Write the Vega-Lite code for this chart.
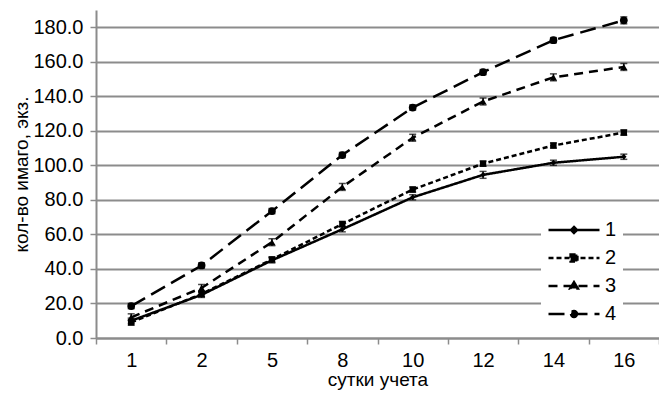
{
  "$schema": "https://vega.github.io/schema/vega-lite/v6.json",
  "width": 563,
  "height": 328,
  "autosize": "none",
  "padding": {"left": 96, "top": 10, "right": 0, "bottom": 56},
  "background": "white",
  "config": {
    "font": "Liberation Sans",
    "view": {"stroke": null},
    "axis": {
      "labelFont": "Liberation Sans",
      "titleFont": "Liberation Sans",
      "labelColor": "black",
      "titleColor": "black",
      "labelFontSize": 20,
      "titleFontSize": 19,
      "titleFontWeight": "normal",
      "domainColor": "#8c8c8c",
      "domainWidth": 2,
      "tickColor": "#8c8c8c",
      "tickWidth": 1.5,
      "gridColor": "#8c8c8c",
      "gridWidth": 2,
      "labelOverlap": false
    },
    "legend": {"labelFont": "Liberation Sans"}
  },
  "data": {
    "values": [
      {"day": 1, "series": "1", "value": 10, "err": 1.5},
      {"day": 2, "series": "1", "value": 25, "err": 1.5},
      {"day": 5, "series": "1", "value": 45, "err": 1.5},
      {"day": 8, "series": "1", "value": 63, "err": 1.5},
      {"day": 10, "series": "1", "value": 81.5, "err": 1.5},
      {"day": 12, "series": "1", "value": 94.5, "err": 2},
      {"day": 14, "series": "1", "value": 101.5, "err": 1.5},
      {"day": 16, "series": "1", "value": 105, "err": 1.5},
      {"day": 1, "series": "2", "value": 9, "err": 1.5},
      {"day": 2, "series": "2", "value": 25.5, "err": 1.5},
      {"day": 5, "series": "2", "value": 45.5, "err": 1.5},
      {"day": 8, "series": "2", "value": 66, "err": 1.5},
      {"day": 10, "series": "2", "value": 86, "err": 1.5},
      {"day": 12, "series": "2", "value": 101, "err": 1.5},
      {"day": 14, "series": "2", "value": 111.5, "err": 1.5},
      {"day": 16, "series": "2", "value": 119, "err": 1.5},
      {"day": 1, "series": "3", "value": 12, "err": 2},
      {"day": 2, "series": "3", "value": 29, "err": 2},
      {"day": 5, "series": "3", "value": 55.5, "err": 2},
      {"day": 8, "series": "3", "value": 87.5, "err": 2},
      {"day": 10, "series": "3", "value": 116, "err": 2},
      {"day": 12, "series": "3", "value": 137, "err": 2},
      {"day": 14, "series": "3", "value": 151, "err": 2},
      {"day": 16, "series": "3", "value": 157, "err": 2},
      {"day": 1, "series": "4", "value": 18.5, "err": 1.5},
      {"day": 2, "series": "4", "value": 42, "err": 1.5},
      {"day": 5, "series": "4", "value": 73.5, "err": 1.5},
      {"day": 8, "series": "4", "value": 106, "err": 1.5},
      {"day": 10, "series": "4", "value": 133.5, "err": 1.5},
      {"day": 12, "series": "4", "value": 154, "err": 1.5},
      {"day": 14, "series": "4", "value": 172.5, "err": 1.5},
      {"day": 16, "series": "4", "value": 184, "err": 2}
    ]
  },
  "encoding": {
    "x": {
      "field": "day",
      "type": "ordinal",
      "scale": {"paddingInner": 0, "paddingOuter": 0},
      "axis": {
        "title": "сутки учета",
        "labelAngle": 0,
        "tickBand": "extent",
        "tickSize": 6,
        "labelPadding": 6,
        "titlePadding": 0,
        "grid": false
      }
    },
    "y": {
      "field": "value",
      "type": "quantitative",
      "title": "кол-во имаго, экз.",
      "scale": {"domain": [0, 190], "nice": false},
      "axis": {
        "values": [0, 20, 40, 60, 80, 100, 120, 140, 160, 180],
        "format": ".1f",
        "tickSize": 6,
        "labelPadding": 7,
        "labelOverlap": false,
        "titlePadding": 1,
        "grid": true
      }
    }
  },
  "layer": [
    {
      "mark": {"type": "line", "color": "black", "strokeWidth": 2.5},
      "encoding": {
        "strokeDash": {
          "field": "series",
          "type": "nominal",
          "scale": {"range": [[1, 0], [5, 3], [9, 6], [16, 7]]},
          "legend": {
            "title": null,
            "orient": "none",
            "legendX": 445,
            "legendY": 204,
            "fillColor": "white",
            "padding": 6,
            "symbolType": "stroke",
            "symbolSize": 289,
            "symbolStrokeWidth": 2.5,
            "symbolStrokeColor": "black",
            "symbolFillColor": "black",
            "labelFontSize": 20,
            "labelColor": "black",
            "labelOffset": 38,
            "rowPadding": 8,
            "encode": {
              "symbols": {
                "update": {
                  "fill": {"value": "black"},
                  "stroke": {"value": "black"},
                  "strokeWidth": {"value": 2.5},
                  "shape": {"signal": "datum.value === '1' ? 'M-1,0H5M2,-0.35L2.35,0L2,0.35L1.65,0Z' : datum.value === '2' ? 'M-1,0H5M1.6,-0.4H2.4V0.4H1.6Z' : datum.value === '3' ? 'M-1,0H5M2,-0.45L2.45,0.3H1.55Z' : 'M-1,0H5M1.65,0A0.35,0.35,0,1,0,2.35,0A0.35,0.35,0,1,0,1.65,0Z'"}
                }
              }
            }
          }
        }
      }
    },
    {
      "mark": {"type": "errorbar", "color": "black", "thickness": 1.5, "ticks": {"size": 7, "thickness": 1.5, "color": "black"}},
      "encoding": {
        "yError": {"field": "err"},
        "detail": {"field": "series", "type": "nominal"}
      }
    },
    {
      "mark": {"type": "point", "filled": true, "color": "black", "opacity": 1},
      "encoding": {
        "shape": {
          "field": "series",
          "type": "nominal",
          "scale": {"domain": ["1", "2", "3", "4"], "range": ["diamond", "square", "triangle-up", "circle"]},
          "legend": null
        },
        "size": {
          "field": "series",
          "type": "nominal",
          "scale": {"domain": ["1", "2", "3", "4"], "range": [30, 60, 40, 45]},
          "legend": null
        }
      }
    }
  ]
}
